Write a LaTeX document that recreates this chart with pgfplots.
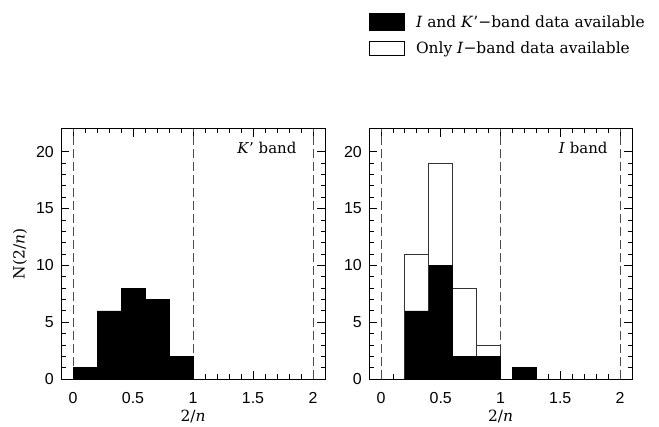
\documentclass[border=0pt]{standalone}
\usepackage{fontspec}
\setmainfont{DejaVu Serif}
\newfontfamily\ticksf{Liberation Sans}
\usepackage{pgfplots}
\pgfplotsset{compat=1.18}

\definecolor{dashgray}{gray}{0.3}

\pgfplotsset{
  panel/.style={
    scale only axis,
    width=264bp, height=250bp,
    xmin=-0.1, xmax=2.1, ymin=0, ymax=22,
    xtick={0,0.5,1,1.5,2}, minor x tick num=4,
    ytick={0,5,10,15,20}, minor y tick num=4,
    xtick pos=both, ytick pos=both,
    tick align=inside,
    major tick length=8bp, minor tick length=4.5bp,
    every tick/.style={black, line width=0.8bp},
    axis line style={line width=1bp},
    tick label style={font=\ticksf\fontsize{16}{18}\selectfont},
    /pgf/number format/assume math mode=true,
    xticklabel style={anchor=center, yshift=-19bp},
    yticklabel style={anchor=east, inner sep=0pt, xshift=-7bp},
    label style={font=\fontsize{15.5}{18}\selectfont},
    xlabel={2/\textit{n}},
    xlabel style={at={(axis description cs:0.5,-0.148)}, anchor=center},
  },
  vdash/.style={dashgray, dash pattern=on 9bp off 4bp, line width=0.8bp, forget plot},
}

\begin{document}
\begin{tikzpicture}
\useasboundingbox (0,0) rectangle (659bp,427bp);

% left panel: K' band
\begin{axis}[panel, at={(61bp,48bp)}, anchor=south west,
  ylabel={N(2/\textit{n})},
  ylabel style={at={(axis description cs:-0.155,0.5)}, anchor=center}]
\addplot[vdash] coordinates {(0,0) (0,22)};
\addplot[vdash] coordinates {(1,0) (1,22)};
\addplot[vdash] coordinates {(2,0) (2,22)};
\addplot[ybar interval, fill=black, draw=black]
  coordinates {(0,1) (0.2,6) (0.4,8) (0.6,7) (0.8,2) (1.0,2)};
\node[anchor=east, font=\fontsize{15}{18}\selectfont]
  at (axis description cs:0.905,0.924) {\textit{K}' band};
\end{axis}

% right panel: I band
\begin{axis}[panel, at={(369bp,48bp)}, anchor=south west, width=263bp,
  legend style={at={(axis description cs:0,1.464)}, anchor=north west,
    draw=none, fill=none, inner sep=0pt, row sep=10bp, column sep=11bp,
    nodes={inner sep=0pt}, font=\fontsize{15.5}{18}\selectfont},
  legend cell align=left]
\addlegendimage{legend image code/.code={\fill[black] (0bp,-8.5bp) rectangle (35bp,8.5bp);}}
\addlegendentry{\textit{I} and \textit{K}'−band data available}
\addlegendimage{legend image code/.code={\draw[black, line width=0.8bp] (0bp,-7bp) rectangle (35bp,7bp);}}
\addlegendentry{Only \textit{I}−band data available}
\addplot[vdash] coordinates {(0,0) (0,22)};
\addplot[vdash] coordinates {(1,0) (1,22)};
\addplot[vdash] coordinates {(2,0) (2,22)};
\addplot[ybar interval, fill=white, draw=black!80, line width=0.8bp, forget plot]
  coordinates {(0.2,11) (0.4,19) (0.6,8) (0.8,3) (1.0,3)};
\addplot[ybar interval, fill=black, draw=black, forget plot]
  coordinates {(0.2,6) (0.4,10) (0.6,2) (0.8,2) (1.0,2)};
\addplot[ybar interval, fill=black, draw=black, forget plot]
  coordinates {(1.1,1) (1.3,1)};
\node[anchor=east, font=\fontsize{15}{18}\selectfont]
  at (axis description cs:0.92,0.924) {\textit{I} band};
\end{axis}
\end{tikzpicture}
\end{document}
